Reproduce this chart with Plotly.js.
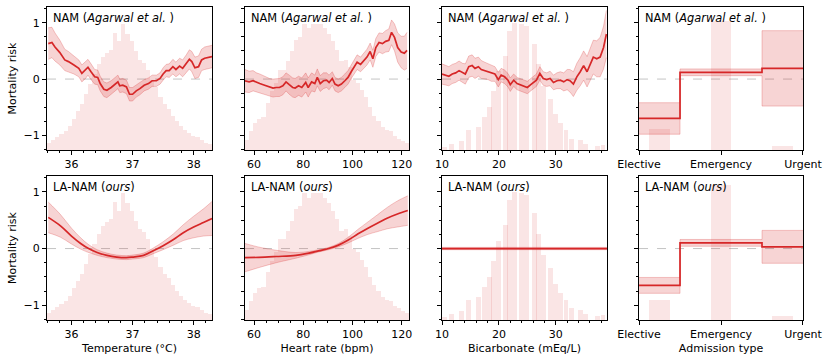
<!DOCTYPE html>
<html>
<head>
<meta charset="utf-8">
<script src="https://cdn.plot.ly/plotly-3.0.1.min.js"></script>
<style>
  html, body { margin: 0; padding: 0; background: #fff; }
  #chart { width: 831px; height: 363px; }
</style>
</head>
<body>
<div id="chart"></div>
<script>
// ---- temperature ----
const tempHist = [0.05,0.07,0.09,0.11,0.13,0.17,0.22,0.27,0.32,0.39,0.46,0.53,0.60,0.65,0.68,0.70,0.82,0.76,0.88,0.81,
                  0.76,0.69,0.63,0.61,0.56,0.49,0.44,0.37,0.32,0.29,0.24,0.20,0.17,0.14,0.12,0.10,0.09,0.07,0.05,0.04];
const tempNamX = [35.62,35.68,35.73,35.81,35.89,35.95,36.04,36.12,36.17,36.23,36.27,36.32,36.38,36.43,36.47,36.53,36.58,36.65,36.70,36.76,
                  36.79,36.84,36.90,36.95,37.00,37.06,37.12,37.19,37.26,37.32,37.39,37.45,37.50,37.55,37.60,37.66,37.71,37.77,37.82,37.88,
                  37.93,37.97,38.02,38.08,38.13,38.18,38.24,38.30];
const tempNam = [0.63,0.65,0.57,0.47,0.34,0.31,0.25,0.19,0.10,0.16,0.21,0.13,0.04,0.03,-0.08,-0.18,-0.20,-0.15,-0.11,-0.05,
                 -0.12,-0.11,-0.14,-0.27,-0.27,-0.21,-0.17,-0.11,-0.08,-0.03,-0.03,0.01,0.09,0.15,0.15,0.22,0.17,0.23,0.19,0.27,
                 0.35,0.31,0.20,0.22,0.34,0.37,0.39,0.40];
const tempNamSd = [0.28,0.27,0.25,0.22,0.19,0.18,0.16,0.15,0.15,0.15,0.14,0.14,0.13,0.13,0.13,0.13,0.13,0.12,0.12,0.12,
                   0.12,0.12,0.12,0.12,0.12,0.11,0.11,0.10,0.10,0.10,0.10,0.10,0.11,0.11,0.12,0.13,0.13,0.14,0.15,0.16,
                   0.17,0.18,0.19,0.19,0.19,0.20,0.20,0.20];
const tempLaX = [35.62,35.82,36.0,36.15,36.28,36.42,36.58,36.74,36.9,37.0,37.18,37.34,37.5,37.67,37.83,38.0,38.16,38.3];
const tempLa = [0.55,0.40,0.22,0.09,0.0,-0.07,-0.12,-0.15,-0.16,-0.15,-0.12,-0.04,0.05,0.16,0.28,0.38,0.46,0.53];
const tempLaSd = [0.27,0.20,0.14,0.10,0.07,0.05,0.04,0.035,0.035,0.035,0.04,0.05,0.07,0.10,0.14,0.19,0.24,0.30];

// ---- heart rate ----
const hrHist = [0.07,0.13,0.19,0.22,0.23,0.33,0.41,0.47,0.56,0.56,0.62,0.69,0.77,0.79,0.88,0.85,0.88,0.88,0.88,0.85,
                0.81,0.76,0.70,0.62,0.63,0.58,0.49,0.47,0.42,0.37,0.30,0.24,0.20,0.16,0.14,0.13,0.10,0.08,0.06,0.05];
const hrNamX = [56.3,58,59.6,61,62.3,63.7,65,66.3,67.7,69,70.3,71.7,73,74.3,75.7,76.7,78.1,79.4,81,82,
                83.4,84.7,85.7,86.9,88.2,89.5,90.5,91.8,92.9,94.2,95.5,96.9,98.2,99.5,100.9,101.9,103.3,104.6,105.9,107.2,
                108.3,109.5,110.8,112.2,113.5,114.8,115.9,117.1,118.4,119.8,121.1,122.2];
const hrNam = [-0.03,-0.05,-0.03,-0.06,-0.08,-0.10,-0.12,-0.15,-0.16,-0.15,-0.15,-0.12,-0.05,-0.10,-0.15,-0.16,-0.12,-0.15,-0.06,-0.15,
               -0.05,-0.08,0.03,-0.08,-0.03,-0.02,-0.06,0.01,-0.09,-0.12,-0.09,-0.03,0.03,0.13,0.23,0.30,0.26,0.33,0.39,0.49,
               0.36,0.56,0.65,0.63,0.67,0.69,0.83,0.74,0.56,0.48,0.46,0.51];
const hrNamSd = [0.20,0.19,0.18,0.17,0.17,0.16,0.16,0.16,0.16,0.16,0.16,0.16,0.16,0.17,0.17,0.17,0.17,0.17,0.17,0.17,
                 0.16,0.15,0.15,0.14,0.14,0.13,0.13,0.12,0.12,0.12,0.12,0.12,0.12,0.12,0.13,0.13,0.13,0.14,0.14,0.15,
                 0.15,0.16,0.17,0.18,0.19,0.20,0.22,0.24,0.26,0.28,0.30,0.32];
const hrLaX = [56.3,62,69,77,82.3,86.3,90.3,94.3,98.3,102.3,106.3,110.3,114.3,118.3,122.5];
const hrLa = [-0.16,-0.155,-0.14,-0.12,-0.08,-0.04,0.0,0.06,0.15,0.26,0.36,0.45,0.54,0.61,0.67];
const hrLaSd = [0.25,0.18,0.11,0.05,0.03,0.02,0.02,0.03,0.05,0.08,0.11,0.15,0.19,0.23,0.26];

// ---- bicarbonate ----
const bicHistX = [10.5,11.6,13.5,14.6,16.4,17.4,18.3,19.1,19.9,21.1,21.9,22.7,24.0,24.9,26.2,27.0,27.8,29.1,30.0,30.9,31.8,32.8,34.4,35.3,37.4,38.3];
const bicHist = [0.023,0.04,0.065,0.14,0.16,0.23,0.30,0.41,0.55,0.66,0.83,0.89,0.88,0.87,0.74,0.60,0.45,0.36,0.25,0.19,0.14,0.08,0.07,0.04,0.03,0.035];
const bicNamX = [10,10.6,11.2,11.8,12.4,13,13.6,14.1,14.7,15.3,15.8,16.4,16.9,17.5,18.1,18.7,19.3,19.9,20.4,21.0,
                 21.6,22.0,22.6,23.2,23.8,24.4,25.0,25.6,26.2,26.6,27.2,27.8,28.4,29.0,29.6,30.2,30.8,31.4,32.0,32.5,
                 33.1,33.7,34.3,34.9,35.5,36.1,36.6,37.2,37.8,38.4,38.9];
const bicNam = [0.09,0.07,0.05,0.09,0.11,0.15,0.11,0.09,0.22,0.24,0.19,0.22,0.17,0.15,0.13,0.10,0.09,-0.01,0.07,0.04,
                -0.02,-0.10,-0.02,-0.08,-0.10,-0.12,-0.15,-0.10,-0.05,-0.02,0.10,0.01,-0.01,0.01,-0.06,-0.03,-0.02,-0.05,-0.01,-0.03,
                -0.09,0.04,0.13,0.24,0.13,0.27,0.39,0.36,0.39,0.56,0.80];
const bicNamSd = [0.18,0.18,0.17,0.17,0.17,0.17,0.17,0.18,0.19,0.19,0.18,0.17,0.16,0.15,0.14,0.14,0.13,0.13,0.12,0.12,
                  0.12,0.12,0.11,0.11,0.11,0.11,0.11,0.11,0.11,0.11,0.12,0.12,0.12,0.13,0.13,0.14,0.15,0.16,0.18,0.20,
                  0.22,0.24,0.25,0.26,0.27,0.28,0.30,0.32,0.35,0.38,0.42];
const bicLaX = [10, 39];
const bicLa = [0, 0];
const bicLaSd = [0.02, 0.02];

// ---- admission type ----
const admCats = ['Elective', 'Emergency', 'Urgent'];
const admHistX = [0.25, 1.0, 1.75];
const admHistTop = [0.15, 0.90, 0.03];
const admHistBottom = [0.14, 0.94, 0.03];
const admEdges = [0, 0.5, 1.5, 2];
const admNam = [-0.70, 0.12, 0.19, 0.19];
const admNamSd = [0.28, 0.06, 0.67, 0.67];
const admLa = [-0.65, 0.10, 0.03, 0.03];
const admLaSd = [0.14, 0.06, 0.29, 0.29];

const FONT = 'DejaVu Sans';
const RED = '#d62728';
const BAND = 'rgba(214,39,40,0.2)';
const BAND_EDGE = 'rgba(214,39,40,0.25)';
const BAR = 'rgba(214,39,40,0.12)';

const colDom = [[0.0566,0.2551],[0.2948,0.4922],[0.5319,0.7304],[0.7690,0.9663]];
const rowDom = [[0.5868,0.9807],[0.1185,0.5152]];
const riskRange = [-1.26, 1.28];

const traces = [];

const addBand = (p, x, y, sd, shape) => {
  const xa = 'x' + p, ya = 'y' + (p + 8);
  const lo = y.map((v, i) => v - sd[i]);
  const hi = y.map((v, i) => v + sd[i]);
  traces.push({x: x, y: lo, xaxis: xa, yaxis: ya, type: 'scatter', mode: 'lines',
    line: {color: BAND_EDGE, width: 1, shape: shape}, hoverinfo: 'skip'});
  traces.push({x: x, y: hi, xaxis: xa, yaxis: ya, type: 'scatter', mode: 'lines', fill: 'tonexty',
    fillcolor: BAND, line: {color: BAND_EDGE, width: 1, shape: shape}, hoverinfo: 'skip'});
  traces.push({x: x, y: y, xaxis: xa, yaxis: ya, type: 'scatter', mode: 'lines',
    line: {color: RED, width: 1.7, shape: shape}});
};

const addHist = (p, opts) => {
  traces.push(Object.assign({type: 'bar', xaxis: 'x' + p, yaxis: 'y' + p,
    marker: {color: BAR, line: {width: 0}}, hoverinfo: 'skip'}, opts));
};

// histograms (drawn on the hidden base axis of each panel)
[1, 5].forEach(p => addHist(p, {x0: 35.6 + 0.0675 / 2, dx: 0.0675, y: tempHist}));
[2, 6].forEach(p => addHist(p, {x0: 56.3 + 1.67 / 2, dx: 1.67, y: hrHist}));
[3, 7].forEach(p => addHist(p, {x: bicHistX, y: bicHist, width: 0.85}));
addHist(4, {x: admHistX, y: admHistTop, width: 0.25});
addHist(8, {x: admHistX, y: admHistBottom, width: 0.25});

// shape functions
addBand(1, tempNamX, tempNam, tempNamSd, 'linear');
addBand(2, hrNamX, hrNam, hrNamSd, 'linear');
addBand(3, bicNamX, bicNam, bicNamSd, 'linear');
addBand(4, admEdges, admNam, admNamSd, 'hv');
addBand(5, tempLaX, tempLa, tempLaSd, 'spline');
addBand(6, hrLaX, hrLa, hrLaSd, 'spline');
addBand(7, bicLaX, bicLa, bicLaSd, 'linear');
addBand(8, admEdges, admLa, admLaSd, 'hv');

const tickFont = {family: FONT, size: 11, color: '#000'};
const xCfg = [
  {range: [35.6, 38.3], tick0: 36, dtick: 1, minor: {dtick: 0.2, tick0: 36}, title: 'Temperature (°C)'},
  {range: [56.3, 123], tick0: 60, dtick: 20, minor: {dtick: 5, tick0: 60}, title: 'Heart rate (bpm)'},
  {range: [10, 39], tick0: 10, dtick: 10, minor: {dtick: 2, tick0: 10}, title: 'Bicarbonate (mEq/L)'},
  {range: [0, 2], tickvals: [0, 1, 2], ticktext: admCats, title: 'Admission type'}
];

const layout = {
  width: 831, height: 363,
  margin: {l: 0, r: 0, t: 0, b: 0},
  paper_bgcolor: '#fff', plot_bgcolor: 'rgba(0,0,0,0)',
  showlegend: false, bargap: 0,
  font: {family: FONT, size: 11, color: '#000'},
  shapes: [], annotations: []
};

for (let p = 1; p <= 8; p++) {
  const col = (p - 1) % 4, row = p <= 4 ? 0 : 1;
  const c = xCfg[col];
  const xa = {
    domain: colDom[col], anchor: 'y' + (p + 8), range: c.range,
    showgrid: false, zeroline: false, showline: true, mirror: true, linecolor: '#000', linewidth: 1,
    ticks: 'outside', ticklen: 4, tickwidth: 1, tickcolor: '#000', tickfont: tickFont
  };
  if (c.tickvals) {
    xa.tickmode = 'array'; xa.tickvals = c.tickvals; xa.ticktext = c.ticktext;
  } else {
    xa.tick0 = c.tick0; xa.dtick = c.dtick;
    xa.minor = {ticks: 'outside', ticklen: 2.5, tickwidth: 1, tickcolor: '#000', dtick: c.minor.dtick, tick0: c.minor.tick0, showgrid: false};
  }
  if (row === 1) xa.title = {text: c.title, font: {family: FONT, size: 11}, standoff: 4};
  layout['xaxis' + p] = xa;

  layout['yaxis' + p] = {domain: rowDom[row], anchor: 'x' + p, range: [0, 1], visible: false, fixedrange: true};

  const ya = {
    overlaying: 'y' + p, anchor: 'x' + p, range: riskRange, side: 'left',
    showgrid: false, zeroline: false, showline: true, mirror: true, linecolor: '#000', linewidth: 1,
    tickmode: 'linear', tick0: 0, dtick: 1,
    ticks: 'outside', ticklen: 4, tickwidth: 1, tickcolor: '#000', tickfont: tickFont,
    showticklabels: col === 0,
    minor: {ticks: 'outside', ticklen: 2.5, tickwidth: 1, tickcolor: '#000', dtick: 0.25, tick0: 0, showgrid: false}
  };
  if (col === 0) ya.title = {text: 'Mortality risk', font: {family: FONT, size: 11}, standoff: 4};
  layout['yaxis' + (p + 8)] = ya;

  layout.shapes.push({type: 'line', xref: 'x' + p + ' domain', yref: 'y' + (p + 8),
    x0: 0, x1: 1, y0: 0, y1: 0, layer: 'below',
    line: {color: '#c4c4c4', width: 1, dash: 'dash'}});

  layout.annotations.push({
    xref: 'x' + p + ' domain', yref: 'y' + p + ' domain', x: 0.025, y: 0.985,
    xanchor: 'left', yanchor: 'top', showarrow: false,
    text: row === 0 ? 'NAM (<i>Agarwal et al.</i> )' : 'LA-NAM (<i>ours</i>)',
    font: {family: FONT, size: 11.4, color: '#000'}
  });
}

Plotly.newPlot('chart', traces, layout, {displayModeBar: false, staticPlot: true});
</script>
</body>
</html>
